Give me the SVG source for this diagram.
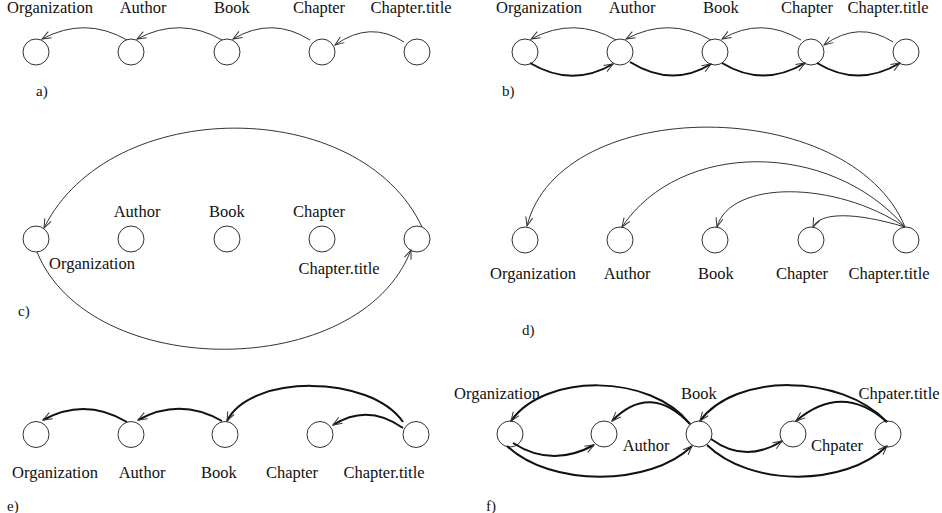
<svg xmlns="http://www.w3.org/2000/svg" width="942" height="513" viewBox="0 0 942 513">
<style>
.n{fill:#fff;stroke:#333;stroke-width:1}
.t{font-family:"Liberation Serif","Times New Roman",serif;font-size:16.5px;fill:#111;text-anchor:middle}
.p{font-family:"Liberation Serif","Times New Roman",serif;font-size:15px;fill:#111}
.c{fill:none;stroke:#333;stroke-width:1;marker-end:url(#ah)}
.k{fill:none;stroke:#111;stroke-width:2;marker-end:url(#ah)}
</style>
<defs>
<marker id="ah" markerUnits="userSpaceOnUse" markerWidth="12" markerHeight="9" refX="9" refY="3.5" orient="auto" overflow="visible">
<path d="M0,0 L9,3.5 L0,7" fill="none" stroke="#333" stroke-width="1"/>
</marker>
</defs>
<rect width="942" height="513" fill="#fff"/>

<!-- panel a -->
<g id="a-organization"><circle class="n" cx="36" cy="52" r="13"/><text class="t" x="50" y="12.5">Organization</text></g>
<g id="a-author"><circle class="n" cx="131" cy="52" r="13"/><text class="t" x="143" y="12.5">Author</text></g>
<g id="a-book"><circle class="n" cx="227" cy="52" r="13"/><text class="t" x="232" y="12.5">Book</text></g>
<g id="a-chapter"><circle class="n" cx="322" cy="52" r="13"/><text class="t" x="319" y="12.5">Chapter</text></g>
<g id="a-chaptertitle"><circle class="n" cx="417" cy="52" r="13"/><text class="t" x="411" y="12.5">Chapter.title</text></g>
<text class="p" x="36" y="96">a)</text>

<!-- panel b -->
<g id="b-organization"><circle class="n" cx="525" cy="52" r="13"/><text class="t" x="539" y="12.5">Organization</text></g>
<g id="b-author"><circle class="n" cx="620" cy="52" r="13"/><text class="t" x="632" y="12.5">Author</text></g>
<g id="b-book"><circle class="n" cx="715" cy="52" r="13"/><text class="t" x="721" y="12.5">Book</text></g>
<g id="b-chapter"><circle class="n" cx="811" cy="52" r="13"/><text class="t" x="807" y="12.5">Chapter</text></g>
<g id="b-chaptertitle"><circle class="n" cx="906" cy="52" r="13"/><text class="t" x="888" y="12.5">Chapter.title</text></g>
<text class="p" x="502" y="96">b)</text>

<!-- panel c -->
<g id="c-organization"><circle class="n" cx="36" cy="239" r="13"/><text class="t" x="92" y="269">Organization</text></g>
<g id="c-author"><circle class="n" cx="131" cy="239" r="13"/><text class="t" x="137" y="217">Author</text></g>
<g id="c-book"><circle class="n" cx="227" cy="239" r="13"/><text class="t" x="227" y="217">Book</text></g>
<g id="c-chapter"><circle class="n" cx="322" cy="239" r="13"/><text class="t" x="319" y="217">Chapter</text></g>
<g id="c-chaptertitle"><circle class="n" cx="417" cy="239" r="13"/><text class="t" x="339" y="274">Chapter.title</text></g>
<text class="p" x="18" y="316">c)</text>

<!-- panel d -->
<g id="d-organization"><circle class="n" cx="525" cy="240" r="13"/><text class="t" x="533" y="279">Organization</text></g>
<g id="d-author"><circle class="n" cx="620" cy="240" r="13"/><text class="t" x="627" y="279">Author</text></g>
<g id="d-book"><circle class="n" cx="715" cy="240" r="13"/><text class="t" x="716" y="279">Book</text></g>
<g id="d-chapter"><circle class="n" cx="811" cy="240" r="13"/><text class="t" x="802" y="279">Chapter</text></g>
<g id="d-chaptertitle"><circle class="n" cx="906" cy="240" r="13"/><text class="t" x="889" y="279">Chapter.title</text></g>
<text class="p" x="522" y="335">d)</text>

<!-- panel e -->
<g id="e-organization"><circle class="n" cx="36" cy="434.5" r="13"/><text class="t" x="55" y="478">Organization</text></g>
<g id="e-author"><circle class="n" cx="131" cy="434.5" r="13"/><text class="t" x="142" y="478">Author</text></g>
<g id="e-book"><circle class="n" cx="225" cy="434.5" r="13"/><text class="t" x="219" y="478">Book</text></g>
<g id="e-chapter"><circle class="n" cx="320" cy="434.5" r="13"/><text class="t" x="292" y="478">Chapter</text></g>
<g id="e-chaptertitle"><circle class="n" cx="416" cy="434.5" r="13"/><text class="t" x="384" y="478">Chapter.title</text></g>
<text class="p" x="7" y="511">e)</text>

<!-- panel f -->
<g id="f-organization"><circle class="n" cx="510" cy="434" r="13"/><text class="t" x="497" y="399">Organization</text></g>
<g id="f-author"><circle class="n" cx="604" cy="434" r="13"/><text class="t" x="646" y="451">Author</text></g>
<g id="f-book"><circle class="n" cx="699" cy="434" r="13"/><text class="t" x="699" y="399">Book</text></g>
<g id="f-chpater"><circle class="n" cx="793" cy="434" r="13"/><text class="t" x="837" y="451">Chpater</text></g>
<g id="f-chpatertitle"><circle class="n" cx="888" cy="434" r="13"/><text class="t" x="899" y="399">Chpater.title</text></g>
<text class="p" x="486" y="511">f)</text>

<g id="connectors">
<!-- a -->
<path class="c" d="M127,40 Q85,16 42,39"/>
<path class="c" d="M222,40 Q180,16 137,39"/>
<path class="c" d="M310,40 Q272,16 233,39"/>
<path class="c" d="M404,42 Q370,20 335,45"/>
<!-- b -->
<path class="c" d="M616,40 Q574,16 531,39"/>
<path class="c" d="M711,40 Q669,16 626,39"/>
<path class="c" d="M801,40 Q761,16 722,39"/>
<path class="c" d="M893,42 Q859,20 824,45"/>
<path class="k" d="M530,63 Q572,88 613,64"/>
<path class="k" d="M630,62 Q672,88 711,64"/>
<path class="k" d="M722,63 Q763,88 805,63"/>
<path class="k" d="M817,63 Q858,88 900,63"/>
<!-- c -->
<path class="c" d="M422,227 C360,95 110,95 44,228"/>
<path class="c" d="M37,252 C90,382 360,382 411,250"/>
<!-- d -->
<path class="c" d="M905,227 C850,94 560,94 527,226"/>
<path class="c" d="M905,227 C830,140 680,140 622,227"/>
<path class="c" d="M905,227 C835,180 730,180 717,227"/>
<path class="c" d="M905,227 C855,212 820,212 813,227"/>
<!-- e -->
<path class="k" d="M127,422 Q85,397 43,420"/>
<path class="k" d="M222,421 Q180,397 138,420"/>
<path class="k" d="M403,422 C370,374 250,374 227,421"/>
<path class="k" d="M403,428 Q368,403 333,425"/>
<!-- f -->
<path class="k" d="M690,424 C650,373 545,373 511,421"/>
<path class="k" d="M690,424 Q650,382 612,421"/>
<path class="k" d="M887,422 C840,373 735,373 700,421"/>
<path class="k" d="M887,422 Q842,382 796,421"/>
<path class="k" d="M513,443 Q552,468 594,445"/>
<path class="k" d="M507,446 C550,487 650,487 692,446"/>
<path class="k" d="M711,439 Q745,464 782,441"/>
<path class="k" d="M707,445 C750,487 845,487 887,446"/>
</g>
</svg>
